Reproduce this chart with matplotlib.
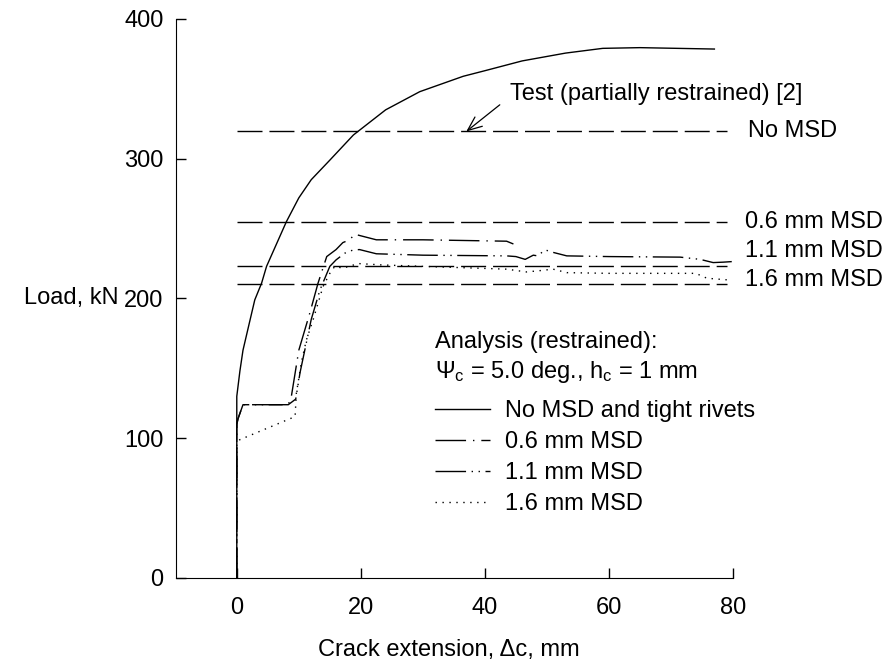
import numpy as np
import matplotlib.pyplot as plt

plt.rcParams['font.family'] = ['Liberation Sans', 'DejaVu Sans']
plt.rcParams['mathtext.fontset'] = 'custom'
plt.rcParams['mathtext.rm'] = 'Liberation Sans'
plt.rcParams['mathtext.it'] = 'Liberation Sans'
plt.rcParams['font.size'] = 17

# analysis, no MSD and tight rivets
x_nomsd = [0, 0, 0.5, 1.0, 2.0, 2.9, 4.0, 4.8, 6.5, 8.0, 10, 12, 15, 18.8, 24,
           29.5, 36.5, 40, 46, 53, 59, 65, 71, 77]
p_nomsd = [0, 130, 148, 163, 182, 199, 211, 223, 240, 255, 272, 285, 299, 317,
           335, 348, 359, 363, 370, 375.6, 379, 379.5, 379, 378.5]

# analysis, 0.6 mm MSD
x_06 = [0, 0, 0.2, 1.0, 8.3, 8.8, 10, 11.8, 13.1, 14.5, 16, 17.1, 18.2, 19,
        22.5, 30, 43.5, 44.6]
p_06 = [0, 110, 114, 124, 124, 130, 163, 190, 211, 230, 235, 240, 242, 246,
        242, 242, 241, 239]

# analysis, 1.1 mm MSD
x_11 = [0, 0, 0.2, 1.0, 8.3, 9.5, 10.2, 11.2, 12, 13.4, 15, 16, 17.4, 18.8,
        19.8, 22.5, 30, 43.5, 45, 46.5, 47.8, 48.5, 49.7, 51, 53.2, 60, 71.5,
        74.7, 76.8, 78.4, 79.8]
p_11 = [0, 110, 114, 124, 124, 128, 147, 168, 185, 206, 223, 227.6, 232.4,
        234.8, 235, 232, 231, 230.5, 230, 228, 231, 230.5, 234.8, 233, 230.5,
        230, 229.6, 228, 225.7, 226, 226.4]

# analysis, 1.6 mm MSD
x_16 = [0, 0, 0.5, 9.4, 9.6, 10.4, 11.2, 12.3, 13.1, 13.9, 15, 15.8, 17.1,
        19.6, 23.5, 30, 43.5, 46.7, 49, 51, 53.2, 60, 74, 75.8, 79.2]
p_16 = [0, 97, 99, 115.5, 132, 154, 170, 184.7, 196.6, 208.5, 218, 223, 221.7,
        225, 224, 223, 221, 219, 220, 221, 218.5, 218, 218, 214.5, 213.3]

# test maximum loads
test_loads = [320, 255, 223.5, 210.4]
test_labels = ['No MSD', '0.6 mm MSD', '1.1 mm MSD', '1.6 mm MSD']
test_label_y = [320, 255, 234, 213]
test_label_x = [82.4, 81.9, 81.9, 81.9]
test_x_end = 79

fig = plt.figure(figsize=(8.92, 6.64), dpi=100)
ax = fig.add_axes([176 / 892, 86 / 664, 557 / 892, 559 / 664])

lw = 1.0
l0, = ax.plot(x_nomsd, p_nomsd, color='black', lw=lw, ls='-')
l1, = ax.plot(x_06, p_06, color='black', lw=lw, ls=(0, (22, 5, 1, 5)))
l2, = ax.plot(x_11, p_11, color='black', lw=lw, ls=(0, (22, 4, 1, 4, 1, 4)))
l3, = ax.plot(x_16, p_16, color='black', lw=lw, ls=(0, (1, 4)))

for load, lab, lx, ly in zip(test_loads, test_labels, test_label_x, test_label_y):
    ax.plot([0, test_x_end], [load, load], color='black', lw=lw,
            ls=(0, (18, 5)))
    ax.text(lx, ly, lab, ha='left', va='center', clip_on=False)

# arrow from the label down to the test line
ax.annotate('', xy=(37, 319.5), xytext=(42.4, 338.6),
            arrowprops=dict(arrowstyle='->, head_length=0.6, head_width=0.25',
                            color='black', lw=0.9, shrinkA=0, shrinkB=0))
ax.text(44, 346.5, 'Test (partially restrained) [2]', ha='left', va='center')

ax.text(31.9, 169, 'Analysis (restrained):', ha='left', va='center')
ax.text(31.9, 147.5, r'$\Psi_\mathrm{c}$ = 5.0 deg., h$_\mathrm{c}$ = 1 mm',
        ha='left', va='center')

ax.legend([l0, l1, l2, l3],
          ['No MSD and tight rivets', '0.6 mm MSD', '1.1 mm MSD', '1.6 mm MSD'],
          loc='upper left', bbox_to_anchor=((435 - 176) / 557, 0.318),
          frameon=False, borderpad=0, borderaxespad=0, handlelength=2.33,
          handletextpad=0.64, labelspacing=0.38)

ax.set_xlim(-9.8, 80)
ax.set_ylim(0, 400)
ax.set_xticks([0, 20, 40, 60, 80])
ax.set_yticks([0, 100, 200, 300, 400])
ax.spines['top'].set_visible(False)
ax.spines['right'].set_visible(False)
ax.tick_params(direction='in', length=7, width=1)
ax.tick_params(axis='y', pad=9)
ax.tick_params(axis='x', pad=14)

ax.set_xlabel('Crack extension, Δc, mm')
ax.xaxis.set_label_coords(0.49, -0.11)
ax.text(-0.104, 200, 'Load, kN', transform=ax.get_yaxis_transform(),
        ha='right', va='center')

fig.savefig('out.png', dpi=100)
